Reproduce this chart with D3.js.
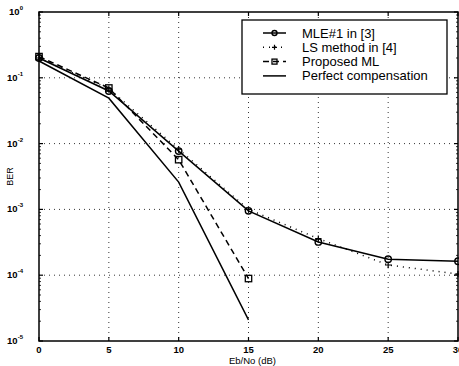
<!DOCTYPE html>
<html>
<head>
<meta charset="utf-8">
<script src="https://cdn.jsdelivr.net/npm/d3@7"></script>
<style>
  body { margin: 0; background: #fff; }
  svg { display: block; font-family: "Liberation Sans", Arial, sans-serif; }
</style>
</head>
<body>
<div id="chart"></div>
<script>
// data
const snr = [0, 5, 10, 15, 20, 25, 30];
const mle = [0.2, 0.063, 0.0077, 0.00095, 0.00032, 0.000175, 0.000163];
const lsMethod = [0.2, 0.068, 0.0082, 0.001, 0.00036, 0.000143, 0.000104];
const proposedSnr = [0, 5, 10, 15];
const proposed = [0.21, 0.07, 0.0057, 0.000089];
const perfectSnr = [0, 5, 10, 15];
const perfect = [0.18, 0.049, 0.0026, 0.000021];
const xTicks = [0, 5, 10, 15, 20, 25, 30];
const yExps = [0, -1, -2, -3, -4, -5];
const legendLabels = ['MLE#1 in [3]', 'LS method in [4]', 'Proposed ML', 'Perfect compensation'];

const width = 459, height = 366;
const margin = { top: 12, right: 1, bottom: 25, left: 39 };

const svg = d3.select('#chart').append('svg')
    .attr('width', width)
    .attr('height', height);

const x = d3.scaleLinear().domain([0, 30]).range([margin.left, width - margin.right]);
const y = d3.scaleLog().domain([1e-5, 1]).range([height - margin.bottom, margin.top]);

const x0 = x.range()[0], x1 = x.range()[1];
const y0 = y.range()[0], y1 = y.range()[1];

// dotted grid
svg.append('g').selectAll('line.gx')
    .data(xTicks.slice(1, -1))
    .join('line')
    .attr('x1', d => x(d)).attr('x2', d => x(d))
    .attr('y1', y1).attr('y2', y0)
    .attr('stroke', '#000').attr('stroke-width', 0.8)
    .attr('stroke-dasharray', '1,4');
svg.append('g').selectAll('line.gy')
    .data(yExps.slice(1, -1))
    .join('line')
    .attr('x1', x0).attr('x2', x1)
    .attr('y1', d => y(Math.pow(10, d))).attr('y2', d => y(Math.pow(10, d)))
    .attr('stroke', '#000').attr('stroke-width', 0.8)
    .attr('stroke-dasharray', '1,4');

// frame
svg.append('rect')
    .attr('x', x0).attr('y', y1)
    .attr('width', x1 - x0).attr('height', y0 - y1)
    .attr('fill', 'none').attr('stroke', '#000').attr('stroke-width', 1.5);

// ticks inside frame
const tick = 4;
xTicks.forEach(t => {
    svg.append('line').attr('x1', x(t)).attr('x2', x(t)).attr('y1', y0).attr('y2', y0 - tick).attr('stroke', '#000').attr('stroke-width', 1.2);
    svg.append('line').attr('x1', x(t)).attr('x2', x(t)).attr('y1', y1).attr('y2', y1 + tick).attr('stroke', '#000').attr('stroke-width', 1.2);
});
yExps.forEach(e => {
    const yy = y(Math.pow(10, e));
    svg.append('line').attr('x1', x0).attr('x2', x0 + tick).attr('y1', yy).attr('y2', yy).attr('stroke', '#000').attr('stroke-width', 1.2);
    svg.append('line').attr('x1', x1).attr('x2', x1 - tick).attr('y1', yy).attr('y2', yy).attr('stroke', '#000').attr('stroke-width', 1.2);
    if (e > -5) {
        for (let m = 2; m <= 9; m++) {
            const ym = y(m * Math.pow(10, e - 1));
            svg.append('line').attr('x1', x0).attr('x2', x0 + 2).attr('y1', ym).attr('y2', ym).attr('stroke', '#000').attr('stroke-width', 0.8);
            svg.append('line').attr('x1', x1).attr('x2', x1 - 2).attr('y1', ym).attr('y2', ym).attr('stroke', '#000').attr('stroke-width', 0.8);
        }
    }
});

// tick labels
svg.append('g').selectAll('text')
    .data(xTicks)
    .join('text')
    .attr('x', d => x(d))
    .attr('y', y0 + 12)
    .attr('text-anchor', 'middle')
    .attr('font-size', 9.5)
    .attr('font-weight', 'bold')
    .text(d => d);

const yl = svg.append('g').selectAll('text')
    .data(yExps)
    .join('text')
    .attr('x', x0 - 16)
    .attr('y', d => y(Math.pow(10, d)) + 3)
    .attr('text-anchor', 'end')
    .attr('font-size', 9.5)
    .attr('font-weight', 'bold');
yl.append('tspan').text('10');
yl.append('tspan').attr('dy', -5).attr('font-size', 6).text(d => d);

svg.append('text')
    .attr('x', (x0 + x1) / 2 + 4)
    .attr('y', height - 2)
    .attr('text-anchor', 'middle')
    .attr('font-size', 9.5)
    .text('Eb/No (dB)');

svg.append('text')
    .attr('transform', `translate(13, ${(y0 + y1) / 2}) rotate(-90)`)
    .attr('text-anchor', 'middle')
    .attr('font-size', 9)
    .text('BER');

// curves
const line = d3.line().x(d => x(d[0])).y(d => y(d[1]));
const zip = (a, b) => a.map((v, i) => [v, b[i]]);

const series = [
    { pts: zip(snr, mle), dash: null, marker: 'circle', w: 1.5 },
    { pts: zip(snr, lsMethod), dash: '1,5', marker: 'plus', w: 1.5 },
    { pts: zip(proposedSnr, proposed), dash: '6,4', marker: 'square', w: 1.5 },
    { pts: zip(perfectSnr, perfect), dash: null, marker: null, w: 1.5 }
];

function drawMarker(g, type, cx, cy, size) {
    const r = size || 3.2;
    if (type === 'circle') {
        g.append('circle').attr('cx', cx).attr('cy', cy).attr('r', r)
            .attr('fill', 'none').attr('stroke', '#000').attr('stroke-width', 1.4);
    } else if (type === 'square') {
        g.append('rect').attr('x', cx - r).attr('y', cy - r).attr('width', 2 * r).attr('height', 2 * r)
            .attr('fill', 'none').attr('stroke', '#000').attr('stroke-width', 1.3);
    } else if (type === 'plus') {
        g.append('path').attr('d', `M${cx - r},${cy}H${cx + r}M${cx},${cy - r}V${cy + r}`)
            .attr('stroke', '#000').attr('stroke-width', 1.2);
    }
}

series.forEach(s => {
    svg.append('path')
        .attr('d', line(s.pts))
        .attr('fill', 'none')
        .attr('stroke', '#000')
        .attr('stroke-width', s.w)
        .attr('stroke-dasharray', s.dash);
    const g = svg.append('g');
    s.pts.forEach(p => drawMarker(g, s.marker, x(p[0]), y(p[1])));
});

// legend
const lg = svg.append('g');
lg.append('rect')
    .attr('x', 242).attr('y', 20).attr('width', 205).attr('height', 74)
    .attr('fill', '#fff').attr('stroke', '#000').attr('stroke-width', 1.3);
legendLabels.forEach((lab, i) => {
    const ly = 33 + i * 14.3;
    const s = series[i];
    lg.append('line').attr('x1', 263).attr('x2', 286).attr('y1', ly).attr('y2', ly)
        .attr('stroke', '#000').attr('stroke-width', 1.5)
        .attr('stroke-dasharray', s.dash);
    drawMarker(lg, s.marker, 274.5, ly, 2.5);
    lg.append('text').attr('x', 302).attr('y', ly + 4.5)
        .attr('font-size', 13).text(lab);
});
</script>
</body>
</html>
